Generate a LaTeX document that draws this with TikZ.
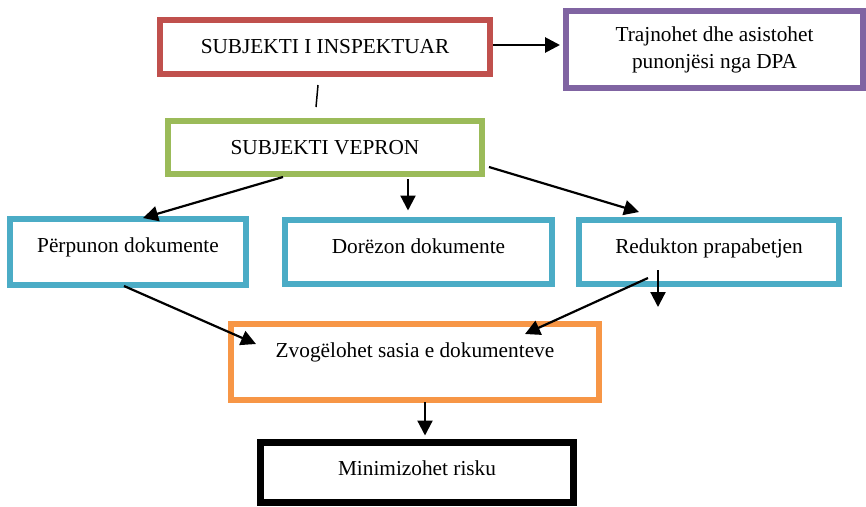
\documentclass[tikz,border=0pt]{standalone}
\usepackage{fontspec}
\setmainfont{Liberation Serif}
\usetikzlibrary{arrows.meta}
\definecolor{boxred}{HTML}{C0504D}
\definecolor{boxpurple}{HTML}{8064A2}
\definecolor{boxgreen}{HTML}{9BBB59}
\definecolor{boxblue}{HTML}{4BACC6}
\definecolor{boxorange}{HTML}{F79646}
\tikzset{
	box/.style={draw, line width=6pt, inner sep=0pt, align=center},
	txt/.style={text height=14pt, text depth=#1},
	link/.style={line width=2.2pt, -{Triangle[length=15pt, width=15pt]}},
}
\begin{document}
\begin{tikzpicture}[x=1pt, y=-1pt, font=\fontsize{21.3}{27}\selectfont]
	\useasboundingbox (0,0) rectangle (866,506);
	\node[box, txt=2pt, draw=boxred, minimum width=330pt, minimum height=54pt] (inspektuar) at (325,47) {SUBJEKTI I INSPEKTUAR};
	\node[box, draw=boxpurple, minimum width=297pt, minimum height=77pt] (trajnohet) at (714.5,49.5) {Trajnohet dhe asistohet\\punonjësi nga DPA};
	\node[box, txt=0pt, draw=boxgreen, minimum width=314pt, minimum height=53pt] (vepron) at (325,147.5) {SUBJEKTI VEPRON};
	\node[box, txt=13pt, draw=boxblue, minimum width=236pt, minimum height=66pt] (perpunon) at (128,252) {Përpunon dokumente};
	\node[box, txt=12pt, draw=boxblue, minimum width=267pt, minimum height=64pt] (dorezon) at (418.5,252) {Dorëzon dokumente};
	\node[box, txt=12pt, draw=boxblue, minimum width=260pt, minimum height=64pt] (redukton) at (709,252) {Redukton prapabetjen};
	\node[box, txt=24pt, draw=boxorange, minimum width=368pt, minimum height=76pt] (zvogelohet) at (415,362) {Zvogëlohet sasia e dokumenteve};
	\node[box, txt=8pt, draw=black, line width=7pt, minimum width=313pt, minimum height=60pt] (risku) at (417,472.5) {Minimizohet risku};
	\draw[link, line width=2.8pt] ([yshift=2pt]inspektuar.east) -- ([xshift=-3pt, yshift=2pt]inspektuar.east -| trajnohet.west);
	\draw[line width=1.5pt] ([xshift=-7pt, yshift=-8pt]inspektuar.south) -- ([xshift=-9pt, yshift=11pt]vepron.north);
	\draw[link] ([xshift=-42pt]vepron.south) -- ([xshift=15pt, yshift=-2pt]perpunon.north);
	\draw[link] ([xshift=83pt, yshift=-2pt]vepron.south) -- ([xshift=-10.5pt, yshift=6.5pt]dorezon.north);
	\draw[link] ([xshift=4pt, yshift=10pt]vepron.south east) -- ([xshift=-70pt, yshift=5pt]redukton.north);
	\draw[link] ([xshift=-4pt, yshift=2pt]perpunon.south) -- ([xshift=28pt, yshift=-23pt]zvogelohet.north west);
	\draw[link] ([xshift=-61pt, yshift=9pt]redukton.south) -- ([xshift=110pt, yshift=-13pt]zvogelohet.north);
	\draw[link] ([xshift=-51pt, yshift=17pt]redukton.south) -- ([xshift=-51pt, yshift=-20pt]redukton.south);
	\draw[link] ([xshift=10pt, yshift=1pt]zvogelohet.south) -- ([xshift=8pt, yshift=3.5pt]risku.north);
\end{tikzpicture}
\end{document}
